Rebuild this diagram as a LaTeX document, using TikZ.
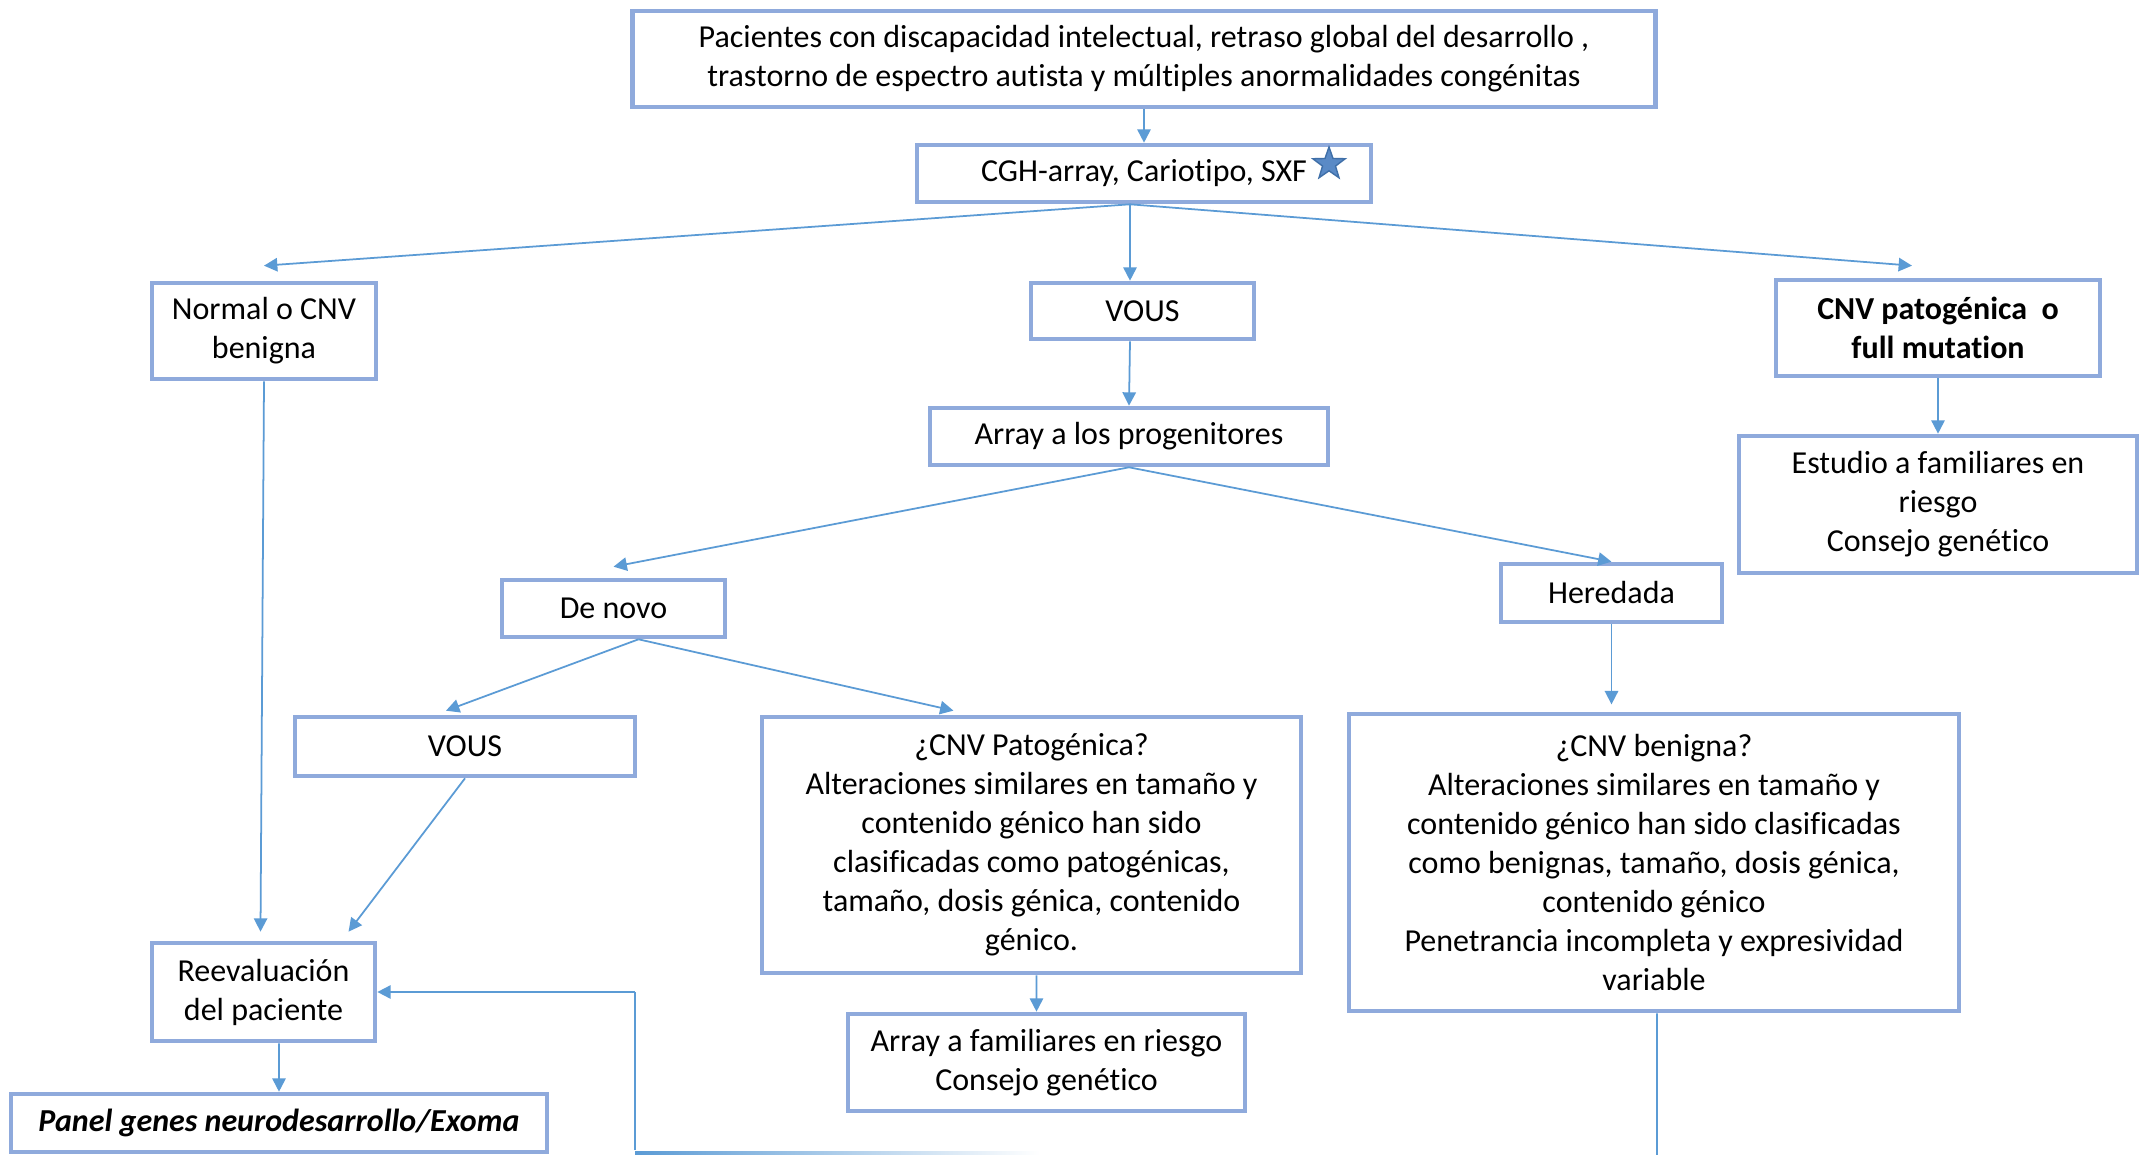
\documentclass[tikz,border=0pt]{standalone}
\usepackage{fontspec}
\setmainfont{Carlito}[Ligatures={NoCommon}]
\usetikzlibrary{arrows.meta,shapes.geometric}
\definecolor{boxblue}{HTML}{8FAADC}
\definecolor{arrowblue}{HTML}{5B9BD5}
\definecolor{starblue}{HTML}{5A8AC6}
\definecolor{stardark}{HTML}{3F6FA8}
\tikzset{
  box/.style={draw=boxblue, line width=1.3pt, fill=white, align=center, inner sep=0pt,
    font=\fontsize{9.1pt}{11.1pt}\selectfont},
  conn/.style={draw=arrowblue, line width=0.5pt, -{Triangle[length=3.8pt,width=3.8pt]}},
  plain/.style={draw=arrowblue, line width=0.5pt},
}
\begin{document}
\begin{tikzpicture}[x=0.01cm,y=-0.01cm]
\useasboundingbox (0,0) rectangle (2145,1155);
\fill[white] (0,0) rectangle (2145,1155);

% nodes
\node[box, minimum width=10.22cm, minimum height=0.96cm] (top) at (1144,59)
  {Pacientes con discapacidad intelectual, retraso global del desarrollo ,\\trastorno de espectro autista y múltiples anormalidades congénitas};
\node[box, minimum width=4.54cm, minimum height=0.57cm] (cgh) at (1144,173.5) {CGH-array, Cariotipo, SXF};
\node[star, star points=5, star point ratio=2.5, fill=starblue, draw=stardark, line width=0.4pt,
  minimum size=0.34cm, inner sep=0pt] (star) at (1329,164) {};
\node[box, minimum width=2.24cm, minimum height=0.96cm] (normal) at (264,331) {Normal o CNV\\benigna};
\node[box, minimum width=2.23cm, minimum height=0.56cm] (vous1) at (1142.5,311) {VOUS};
\node[box, minimum width=3.24cm, minimum height=0.96cm, font=\fontsize{9.1pt}{11.1pt}\selectfont\bfseries] (cnvpat) at (1938,328) {CNV patogénica\ \ o\\full mutation};
\node[box, minimum width=3.98cm, minimum height=0.57cm] (prog) at (1129,436.5) {Array a los progenitores};
\node[box, minimum width=3.98cm, minimum height=1.37cm] (estudio) at (1938,504.5) {Estudio a familiares en\\riesgo\\Consejo genético};
\node[box, minimum width=2.23cm, minimum height=0.57cm] (denovo) at (613.5,608.5) {De novo};
\node[box, minimum width=2.21cm, minimum height=0.58cm] (heredada) at (1611.5,593) {Heredada};
\node[box, minimum width=3.40cm, minimum height=0.59cm] (vous2) at (465,746.5) {VOUS};
\node[box, minimum width=5.39cm, minimum height=2.56cm] (pato) at (1031.5,845)
  {¿CNV Patogénica?\\Alteraciones similares en tamaño y\\contenido génico han sido\\clasificadas como patogénicas,\\tamaño, dosis génica, contenido\\génico.};
\node[box, minimum width=6.10cm, minimum height=2.97cm] (benigna) at (1654,862.5)
  {¿CNV benigna?\\Alteraciones similares en tamaño y\\contenido génico han sido clasificadas\\como benignas, tamaño, dosis génica,\\contenido génico\\Penetrancia incompleta y expresividad\\variable};
\node[box, minimum width=2.23cm, minimum height=0.98cm] (reev) at (263.5,992) {Reevaluación\\del paciente};
\node[box, minimum width=3.97cm, minimum height=0.97cm] (famil) at (1046.5,1062.5) {Array a familiares en riesgo\\Consejo genético};
\node[box, minimum width=5.36cm, minimum height=0.58cm, font=\fontsize{9.1pt}{11.1pt}\selectfont\bfseries\itshape] (panel) at (279,1123) {Panel genes neurodesarrollo/Exoma};

% connectors
\draw[conn] (top) -- (cgh);
\draw[conn] ([xshift=-0.14cm]cgh.south) -- ([yshift=0.15cm]normal.north);
\draw[conn] ([xshift=-0.14cm]cgh.south) -- ([xshift=-0.125cm]vous1.north);
\draw[conn] ([xshift=-0.14cm]cgh.south) -- ([xshift=-0.26cm,yshift=0.12cm]cnvpat.north);
\draw[conn] (cnvpat) -- (estudio);
\draw[conn] ([xshift=-0.125cm]vous1.south) -- (prog.north);
\draw[conn] (prog.south) -- ([yshift=0.11cm]denovo.north);
\draw[conn] (prog.south) -- (heredada.north);
\draw[conn] (heredada.south) -- ([yshift=-0.8cm]heredada.south);
\draw[conn] ([xshift=0.25cm]denovo.south) -- ([xshift=-0.19cm,yshift=0.04cm]vous2.north);
\draw[conn] ([xshift=0.25cm]denovo.south) -- ([xshift=-0.78cm,yshift=0.04cm]pato.north);
\draw[conn] ([xshift=0.05cm]pato.south) -- ([xshift=-0.1cm]famil.north);
\draw[conn] (normal.south) -- ([xshift=-0.03cm,yshift=0.09cm]reev.north);
\draw[conn] (vous2.south) -- ([xshift=0.85cm,yshift=0.09cm]reev.north);
\draw[conn] ([xshift=0.155cm]reev.south) -- (panel.north);

% feedback line
\coordinate (fbTop) at (635,992);
\coordinate (fbBot) at (635,1150);
\draw[plain] (fbBot) -- (fbTop);
\draw[conn] (fbTop) -- (reev.east);
\coordinate (bnBot) at (1657,1155);
\draw[plain] ([xshift=0.03cm]benigna.south) -- (bnBot);
\shade[left color=arrowblue, right color=white] (635,1151) rectangle (1040,1154);
\end{tikzpicture}
\end{document}
